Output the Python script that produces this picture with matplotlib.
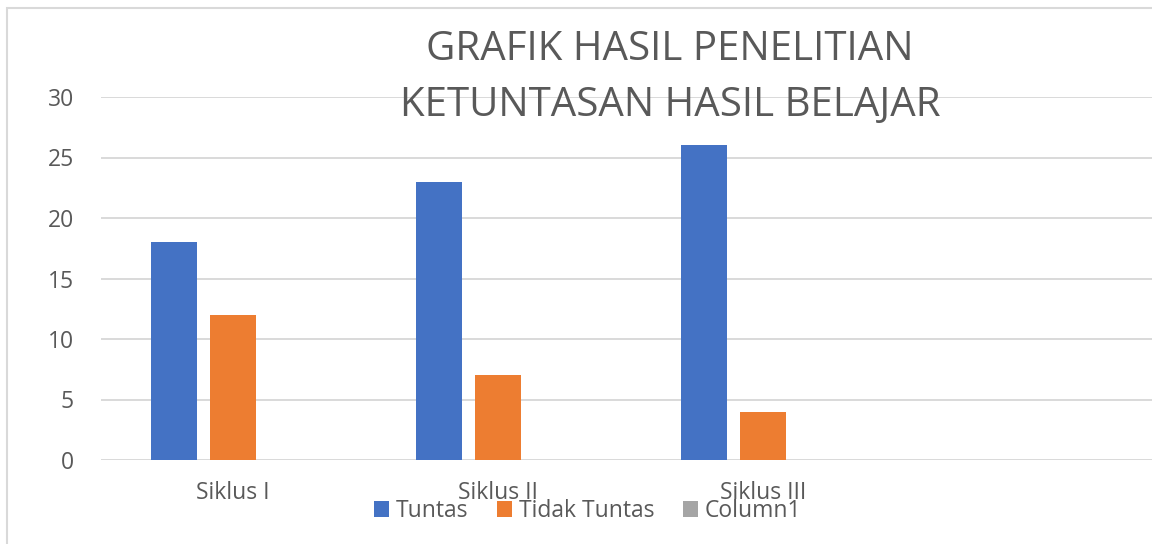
import matplotlib
matplotlib.use("Agg")
import matplotlib.pyplot as plt
import numpy as np
from matplotlib.patches import Rectangle

categories = ["Siklus I", "Siklus II", "Siklus III", ""]
tuntas = [18, 23, 26, np.nan]
tidak_tuntas = [12, 7, 4, np.nan]
column1 = [0, 0, 0, np.nan]
series_names = ["Tuntas", "Tidak Tuntas", "Column1"]
colors = ["#4472c4", "#ed7d31", "#a5a5a5"]
yticks = [0, 5, 10, 15, 20, 25, 30]
title = "GRAFIK HASIL PENELITIAN\nKETUNTASAN HASIL BELAJAR"

plt.rcParams['font.family'] = ['Open Sans', 'DejaVu Sans']
txt = "#595959"

fig = plt.figure(figsize=(11.52, 5.44), dpi=100)
W, H = 1152, 544
ax = fig.add_axes([100.5 / W, (H - 460) / H, 1060 / W, 363 / H])

x = np.arange(len(categories))
bw = 46 / 265
step = 59 / 265
for i, (vals, name, c) in enumerate(zip([tuntas, tidak_tuntas, column1], series_names, colors)):
    ax.bar(x + (i - 1) * step, vals, width=bw, color=c, label=name, zorder=3)

ax.set_xlim(-0.5, 3.5)
ax.set_ylim(0, 30)
ax.set_yticks(yticks)
ax.set_xticks(x[:3])
ax.set_xticklabels(categories[:3])
ax.yaxis.grid(True, color="#d9d9d9", linewidth=1.4, zorder=0)
for s in ax.spines.values():
    s.set_visible(False)
ax.tick_params(axis="both", length=0, labelsize=16.5, labelcolor=txt)
ax.tick_params(axis="y", pad=19)
ax.tick_params(axis="x", pad=15)

fig.text(670 / W, 1 - 78 / H, title, ha="center", va="center", fontsize=29,
         color=txt, linespacing=1.52)

leg = fig.legend(loc="center", bbox_to_anchor=(588 / W, 1 - 511 / H), ncol=3, frameon=False,
                 fontsize=16.5, handlelength=0.65, handleheight=0.65, handletextpad=0.3,
                 columnspacing=1.25, labelcolor=txt, borderpad=0)

fig.patches.append(Rectangle((7 / W, -0.1), 1.2, (1 - 8 / H) + 0.1, transform=fig.transFigure,
                             fill=False, edgecolor="#d9d9d9", linewidth=1.5, zorder=0))

fig.savefig("out.png", dpi=100, facecolor="white")
